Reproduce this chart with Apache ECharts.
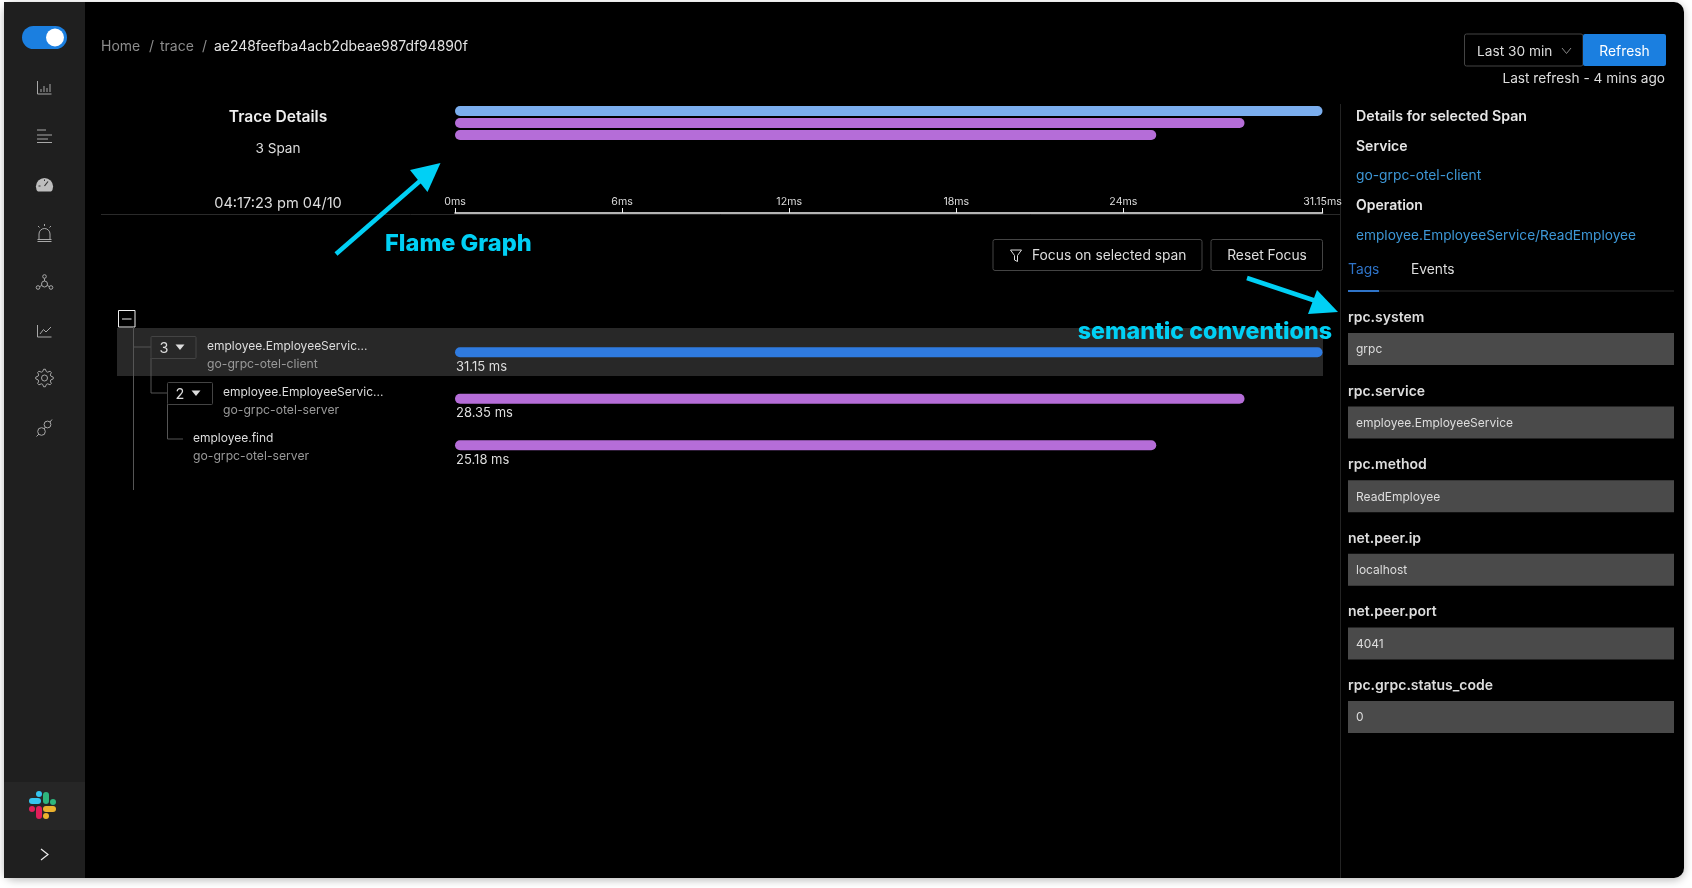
<!DOCTYPE html>
<html>
<head>
<meta charset="utf-8">
<title>Trace Details</title>
<script src="https://cdn.jsdelivr.net/npm/echarts@6/dist/echarts.min.js"></script>
<style>
    html, body { margin: 0; height: 100%; background: #fff; }
    #main { width: 100%; height: 100%; }
</style>
</head>
<body>
<div id="main"></div>
<script>
"use strict";

// 图表数据
const spanRows = ['employee.EmployeeService/ReadEmployee', 'employee.EmployeeService/ServerRead', 'employee.find'];
const spanLabels = ['employee.EmployeeServic...', 'employee.EmployeeServic...', 'employee.find'];
const spanServices = ['go-grpc-otel-client', 'go-grpc-otel-server', 'go-grpc-otel-server'];
const durations = [31.15, 28.35, 25.18];
const axisTicks = [0, 6, 12, 18, 24, 31.15];
const miniColors = ['#7baeee', '#b56dd8', '#b56dd8'];
const detailColors = ['#2f7be0', '#b56dd8', '#b56dd8'];

// 右侧标签
const tagNames = ['rpc.system', 'rpc.service', 'rpc.method', 'net.peer.ip', 'net.peer.port', 'rpc.grpc.status_code'];
const tagValues = ['grpc', 'employee.EmployeeService', 'ReadEmployee', 'localhost', '4041', '0'];

const FONT = 'Inter, "Noto Sans", sans-serif';
const CYAN = '#00d0f5';
const SIDE = '#1f1f1f';
const ICON = '#a8a8a8';

// ---- 绘图小工具 ----
const text = (x, y, str, fill, size, weight, align) => ({
    type: 'text',
    silent: true,
    style: {
        x: x,
        y: y + 0.7,
        text: str,
        fill: fill || '#ddd',
        fontSize: size || 13,
        fontWeight: weight || 'normal',
        fontFamily: FONT,
        align: align || 'left',
        verticalAlign: 'middle'
    }
});

const rect = (x, y, w, h, fill, stroke, r) => ({
    type: 'rect',
    silent: true,
    shape: { x: x, y: y, width: w, height: h, r: r || 0 },
    style: { fill: fill || 'transparent', stroke: stroke || null, lineWidth: 1 }
});

const line = (points, stroke, width, cap) => ({
    type: 'polyline',
    silent: true,
    shape: { points: points },
    style: { fill: null, stroke: stroke || ICON, lineWidth: width || 1, lineCap: cap || 'butt' }
});

const poly = (points, fill, stroke) => ({
    type: 'polygon',
    silent: true,
    shape: { points: points },
    style: { fill: fill || 'transparent', stroke: stroke || null, lineWidth: 1 }
});

const circle = (cx, cy, r, fill, stroke) => ({
    type: 'circle',
    silent: true,
    shape: { cx: cx, cy: cy, r: r },
    style: { fill: fill || 'transparent', stroke: stroke || null, lineWidth: 1 }
});

// 齿轮图标的外轮廓
const gearPoints = (cx, cy) => {
    const pts = [];
    for (let i = 0; i < 32; i++) {
        const a = Math.PI * 2 * (i - 0.5) / 32;
        const r = (i % 4 === 0 || i % 4 === 1) ? 8.8 : 6.6;
        pts.push([cx + Math.cos(a) * r, cy + Math.sin(a) * r]);
    }
    return pts;
};

// 侧边栏
const sidebar = () => [
    rect(4, 2, 81, 876, SIDE, null, 0),
    rect(4, 782, 81, 48, '#262626'),
    // 开关
    rect(22, 26, 45, 23, '#1b7fe0', null, 11.5),
    circle(55, 37.5, 9, '#fff'),
    // 柱状图
    line([[37.5, 81], [37.5, 94], [51.5, 94]]),
    line([[41, 92], [41, 89]]), line([[44, 92], [44, 86]]), line([[47, 92], [47, 88]]), line([[50, 92], [50, 84]]),
    // 列表
    line([[37, 130], [46, 130]]), line([[37, 135], [52, 135]]), line([[37, 139], [48, 139]]), line([[37, 142.5], [52, 142.5]]),
    // 仪表盘
    circle(44.5, 186.5, 8.6, '#bdbdbd'),
    rect(34, 191.5, 21, 5, SIDE),
    line([[44.5, 186], [48, 181.5]], '#333', 1.2), line([[38.5, 186], [40.5, 186]], '#333', 1), line([[44.5, 179.5], [44.5, 181]], '#333', 1),
    // 告警
    { type: 'arc', silent: true, shape: { cx: 44.5, cy: 234, r: 5.5, startAngle: Math.PI, endAngle: 0, clockwise: true }, style: { fill: null, stroke: ICON, lineWidth: 1 } },
    line([[39, 234], [39, 239]]), line([[50, 234], [50, 239]]),
    line([[37.5, 239.5], [51.5, 239.5]]), line([[37.5, 241.5], [51.5, 241.5]]),
    line([[44.5, 224], [44.5, 226]]), line([[38, 226], [39.5, 227.5]]), line([[51, 226], [49.5, 227.5]]),
    // 拓扑
    circle(44.5, 276.5, 1.8, null, ICON), circle(38, 287.5, 1.8, null, ICON), circle(51, 287.5, 1.8, null, ICON),
    circle(44.5, 284, 3, null, ICON),
    line([[44.5, 278.5], [44.5, 281]]), line([[39.6, 286.7], [41.8, 285.4]]), line([[49.4, 286.7], [47.2, 285.4]]),
    // 折线图
    line([[37.5, 325], [37.5, 337], [51.5, 337]]),
    line([[40, 334], [43.5, 329.5], [46, 332], [51, 327]]),
    // 设置
    poly(gearPoints(44.5, 378), null, ICON),
    circle(44.5, 378, 3, null, ICON),
    // 插件
    circle(41.5, 431.5, 3.8, null, ICON),
    circle(47.5, 424.5, 3.4, null, ICON),
    line([[36.5, 436.5], [39, 434]]), line([[44, 429], [45.5, 427]]), line([[50, 422], [52, 419.5]]),
    // Slack
    line([[32, 801], [38, 801]], '#36c5f0', 6, 'round'), line([[39, 794], [39, 794.1]], '#36c5f0', 6, 'round'),
    line([[46, 795], [46, 801]], '#2eb67d', 6, 'round'), line([[53, 802], [53, 802.1]], '#2eb67d', 6, 'round'),
    line([[46, 809], [53, 809]], '#ecb22e', 6, 'round'), line([[46, 816], [46, 816.1]], '#ecb22e', 6, 'round'),
    line([[39, 809], [39, 816]], '#e01e5a', 6, 'round'), line([[32, 809], [32, 809.1]], '#e01e5a', 6, 'round'),
    // 展开
    line([[41, 849], [48, 854.5], [41, 860]], '#eee', 1.2)
];

// 顶部和轨迹摘要
const header = () => [
    text(101, 46, 'Home', '#8c8c8c', 14),
    text(149, 46, '/', '#8c8c8c', 14),
    text(160, 46, 'trace', '#8c8c8c', 14),
    text(202, 46, '/', '#8c8c8c', 14),
    text(214, 46, 'ae248feefba4acb2dbeae987df94890f', '#e4e4e4', 13.9),
    rect(1464.5, 34, 118.5, 32, null, '#444', 2),
    text(1477, 51, 'Last 30 min', '#ddd', 13.7),
    line([[1562, 48], [1566.5, 53.5], [1571, 48]], '#888', 1),
    rect(1583, 34, 83, 32, '#1b7fe0', null, 2),
    text(1624.5, 51, 'Refresh', '#fff', 13.8, 'normal', 'center'),
    text(1665, 78, 'Last refresh - 4 mins ago', '#ddd', 13.7, 'normal', 'right'),
    text(278, 117, 'Trace Details', '#eee', 15.6, 600, 'center'),
    text(278, 148, '3 Span', '#ddd', 13.6, 'normal', 'center'),
    text(278, 203, '04:17:23 pm 04/10', '#ddd', 14.6, 'normal', 'center'),
    line([[101, 214.5], [1340, 214.5]], '#2a2a2a', 1),
    line([[1340.5, 104], [1340.5, 878]], '#232323', 1),
    rect(993, 239.5, 209, 31, null, '#444', 2),
    poly([[1010.5, 250], [1021.5, 250], [1017.5, 255.5], [1017.5, 261.5], [1014.5, 260], [1014.5, 255.5]], null, '#ddd'),
    text(1032, 255.5, 'Focus on selected span', '#ddd', 13.8),
    rect(1211, 239.5, 111.5, 31, null, '#444', 2),
    text(1267, 255.5, 'Reset Focus', '#ddd', 13.8, 'normal', 'center')
];

// 树形列表，柱子本身由 series 绘制
const tree = () => {
    const els = [
        rect(117, 328, 1206, 48, '#282828'),
        rect(118.5, 310.5, 16.5, 16.5, '#000', '#eee'),
        line([[122, 319], [131.5, 319]], '#eee', 1),
        line([[133.5, 327], [133.5, 490]], '#555', 1),
        line([[133.5, 347], [151, 347]], '#555', 1),
        line([[151, 358], [151, 393], [167.5, 393]], '#555', 1),
        line([[167.5, 404], [167.5, 439], [183, 439]], '#555', 1),
        rect(151, 336.5, 45, 22, '#282828', '#444', 1),
        text(164, 347.5, '3', '#ddd', 14.5, 'normal', 'center'),
        poly([[175.5, 344.5], [184.5, 344.5], [180, 350]], '#ddd'),
        rect(167.5, 382.5, 45, 22, '#000', '#444', 1),
        text(180, 393.5, '2', '#ddd', 14.5, 'normal', 'center'),
        poly([[191.5, 390.5], [200.5, 390.5], [196, 396]], '#ddd')
    ];
    const labelX = [207, 223, 193];
    const labelY = [346, 392, 438];
    spanLabels.forEach((label, i) => {
        els.push(text(labelX[i], labelY[i] - 0.5, label, '#ddd', 12));
        els.push(text(labelX[i], labelY[i] + 18, spanServices[i], '#999', 12.2));
    });
    return els;
};

// 右侧详情
const details = () => {
    const els = [
        text(1356, 116, 'Details for selected Span', '#e6e6e6', 14.2, 600),
        text(1356, 146, 'Service', '#e6e6e6', 14, 600),
        text(1356, 175, 'go-grpc-otel-client', '#3d97d6', 13.8),
        text(1356, 205, 'Operation', '#e6e6e6', 14, 600),
        text(1356, 235, 'employee.EmployeeService/ReadEmployee', '#3d97d6', 13.7),
        text(1348, 269, 'Tags', '#2f74c8', 13.8),
        text(1411, 269, 'Events', '#ddd', 13.8),
        line([[1348, 291], [1674, 291]], '#2d2d2d', 1),
        line([[1348, 291], [1379, 291]], '#2f74c8', 2)
    ];
    tagNames.forEach((name, i) => {
        const top = 333 + i * 73.6;
        els.push(text(1348, top - 16, name, '#ddd', 14, 600));
        els.push(rect(1348, top, 326, 32, '#4a4a4a'));
        els.push(text(1356, top + 16, tagValues[i], '#ddd', 12));
    });
    return els;
};

// 标注箭头和文字
const notes = () => [
    line([[336, 254], [420, 181]], CYAN, 4.5),
    poly([[440.5, 163], [410, 170], [427.5, 192]], CYAN),
    text(385, 243, 'Flame Graph', CYAN, 23.6, 800),
    line([[1247, 278], [1322, 303]], CYAN, 4.5),
    poly([[1338, 312], [1317, 290], [1308, 314]], CYAN),
    text(1332, 331, 'semantic conventions', CYAN, 23.2, 800, 'right')
];

$main();

function $main() {
    const chart = echarts.init(document.getElementById('main'));

    const option = {
        animation: false,
        backgroundColor: '#fff',
        graphic: {
            elements: [{
                type: 'rect',
                silent: true,
                shape: { x: 4, y: 2, width: 1680, height: 876, r: 10 },
                style: { fill: '#000', shadowBlur: 8, shadowColor: 'rgba(0,0,0,0.28)', shadowOffsetY: 2 }
            }].concat(sidebar(), header(), tree(), details(), notes())
        },
        grid: [{
            // 概览
            left: 455, right: 369.5, top: 105, height: 36
        }, {
            // 明细
            left: 455, right: 369.5, top: 329, height: 139.5
        }],
        xAxis: [{
            type: 'value',
            gridIndex: 0,
            min: 0,
            max: 31.15,
            offset: 72,
            splitLine: { show: false },
            axisLine: { show: true, lineStyle: { color: '#f0f0f0', width: 1.5 } },
            axisTick: { show: true, inside: true, length: 5, customValues: axisTicks, lineStyle: { color: '#f0f0f0' } },
            axisLabel: {
                inside: true,
                margin: 6,
                customValues: axisTicks,
                color: '#ddd',
                fontSize: 10.6,
                fontFamily: FONT,
                formatter: '{value}ms'
            }
        }, {
            type: 'value',
            gridIndex: 1,
            min: 0,
            max: 31.15,
            show: false
        }],
        yAxis: [{
            type: 'category',
            gridIndex: 0,
            inverse: true,
            data: spanRows,
            show: false
        }, {
            type: 'category',
            gridIndex: 1,
            inverse: true,
            data: spanRows,
            show: false
        }],
        series: [{
            type: 'bar',
            name: 'overview',
            xAxisIndex: 0,
            yAxisIndex: 0,
            barWidth: 10,
            itemStyle: { borderRadius: 5 },
            data: durations.map((v, i) => ({ value: v, itemStyle: { color: miniColors[i] } }))
        }, {
            type: 'bar',
            name: 'spans',
            xAxisIndex: 1,
            yAxisIndex: 1,
            barWidth: 10,
            itemStyle: { borderRadius: 5 },
            label: {
                show: true,
                position: [1, 13],
                color: '#ddd',
                fontSize: 13,
                fontFamily: FONT,
                formatter: '{c} ms'
            },
            data: durations.map((v, i) => ({ value: v, itemStyle: { color: detailColors[i] } }))
        }]
    };
    chart.setOption(option);
}
</script>
</body>
</html>
